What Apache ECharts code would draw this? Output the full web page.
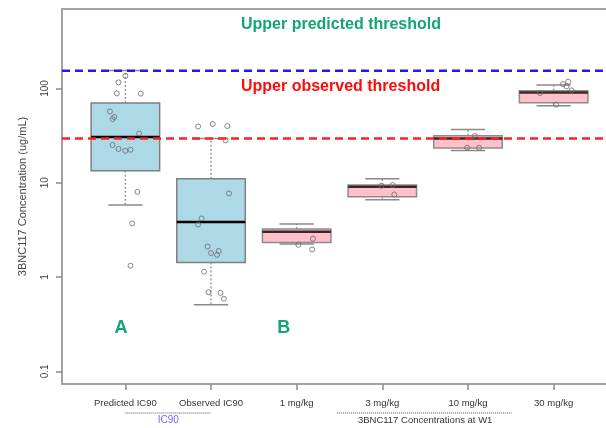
<!DOCTYPE html>
<html>
<head>
<meta charset="utf-8">
<script src="https://cdn.jsdelivr.net/npm/echarts@6/dist/echarts.min.js"></script>
<style>
  html, body { margin: 0; padding: 0; background: #fff; }
  #chart { width: 606px; height: 428px; }
</style>
</head>
<body>
<div id="chart"></div>
<script>
// Groups along the x axis (positions 1..6)
const categories = ['Predicted IC90', 'Observed IC90', '1 mg/kg', '3 mg/kg', '10 mg/kg', '30 mg/kg'];

// Box statistics: [lower whisker, Q1, median, Q3, upper whisker]  (ug/mL)
const ic90Boxes = [
  [5.8, 13.4, 30.5, 70, 155],
  [0.51, 1.43, 3.83, 11.0, 29.5]
];
const doseBoxes = [
  [2.24, 2.33, 3.02, 3.23, 3.65],
  [6.6, 7.11, 9.07, 9.46, 11.0],
  [22.0, 23.3, 29.5, 31.5, 36.7],
  [65.6, 70.5, 90.7, 94.6, 109]
];

// Individual observations: [jittered group position, concentration]
const predictedPoints = [
  [1.00, 136], [0.92, 116], [0.90, 88.5], [1.18, 88], [0.82, 57], [0.87, 49.8], [0.85, 47.3],
  [1.16, 33.3], [0.85, 25.1], [0.92, 22.8], [1.00, 21.8], [1.06, 22.4], [1.14, 8.0], [1.08, 3.7], [1.06, 1.32]
];
const observedPoints = [
  [1.85, 39.5], [2.02, 41.9], [2.19, 39.9], [2.17, 28.1], [2.21, 7.7], [1.89, 4.18], [1.85, 3.61],
  [1.96, 2.11], [2.00, 1.80], [2.07, 1.72], [2.09, 1.89], [1.92, 1.14], [1.97, 0.69], [2.11, 0.68], [2.15, 0.59]
];
const dosePoints = [
  [3.02, 2.20], [3.19, 2.55], [3.18, 1.96],
  [3.99, 9.3], [4.12, 9.46], [4.14, 7.5],
  [5.08, 31.3], [4.99, 23.5], [5.13, 23.5],
  [6.11, 111], [6.17, 118], [6.15, 105], [6.21, 95.3], [5.84, 89.3], [6.03, 67.2]
];

// Reference thresholds (ug/mL)
const predictedThreshold = 154;
const observedThreshold = 29.5;

// Axis ticks
const yTickValues = [0.1, 1, 10, 100];
const yTickLabels = ['0.1', '1', '10', '100'];
const xTickValues = [1, 2, 3, 4, 5, 6];

const X_MIN = 0.26, X_MAX = 6.74;
const BOX_HALF = 0.4, CAP_HALF = 0.2;

function boxRenderer(fill, border, medianColor) {
  return function (params, api) {
    const x = api.value(0);
    const lo = api.value(1), q1 = api.value(2), med = api.value(3), q3 = api.value(4), hi = api.value(5);
    const left = api.coord([x - BOX_HALF, med])[0];
    const right = api.coord([x + BOX_HALF, med])[0];
    const capL = api.coord([x - CAP_HALF, med])[0];
    const capR = api.coord([x + CAP_HALF, med])[0];
    const cx = api.coord([x, med])[0];
    const yLo = api.coord([x, lo])[1], yQ1 = api.coord([x, q1])[1], yMed = api.coord([x, med])[1];
    const yQ3 = api.coord([x, q3])[1], yHi = api.coord([x, hi])[1];
    const whisker = { stroke: '#9a9a9a', lineWidth: 1.5, lineDash: [2, 2] };
    const cap = { stroke: '#8a8a8a', lineWidth: 1.5 };
    return {
      type: 'group',
      children: [
        { type: 'line', shape: { x1: cx, y1: yQ3, x2: cx, y2: yHi }, style: whisker },
        { type: 'line', shape: { x1: cx, y1: yQ1, x2: cx, y2: yLo }, style: whisker },
        { type: 'line', shape: { x1: capL, y1: yHi, x2: capR, y2: yHi }, style: cap },
        { type: 'line', shape: { x1: capL, y1: yLo, x2: capR, y2: yLo }, style: cap },
        { type: 'rect', shape: { x: left, y: yQ3, width: right - left, height: yQ1 - yQ3 },
          style: { fill: fill, stroke: border, lineWidth: 1.5 } },
        { type: 'line', shape: { x1: left, y1: yMed, x2: right, y2: yMed },
          style: { stroke: medianColor, lineWidth: 2.5 } }
      ]
    };
  };
}

function boxData(boxes, startPos) {
  return boxes.map((b, i) => [startPos + i].concat(b));
}

const pointStyle = {
  type: 'scatter',
  symbol: 'circle',
  symbolSize: 5,
  itemStyle: { color: 'rgba(0,0,0,0)', borderColor: '#6a6a6a', borderWidth: 1 },
  z: 5,
  silent: true
};

function hLine(value, color) {
  return {
    type: 'line',
    data: [[X_MIN, value], [X_MAX, value]],
    showSymbol: false,
    symbol: 'none',
    lineStyle: { color: color, width: 2.5, type: [8, 5] },
    z: 8,
    silent: true
  };
}

const chart = echarts.init(document.getElementById('chart'), null, { renderer: 'canvas' });

// Plot frame: left, top and bottom edges (the right edge lies past the canvas)
chart.setOption({
  animation: false,
  backgroundColor: '#ffffff',
  grid: {
    left: 62, top: 9, width: 555, height: 375,
    outerBoundsMode: 'none',
    containLabel: false,
    show: false
  },
  xAxis: [{
    type: 'value',
    min: X_MIN, max: X_MAX,
    axisLine: { show: true, onZero: false, lineStyle: { color: '#a3a3a3', width: 2 } },
    splitLine: { show: false },
    axisTick: { show: true, customValues: xTickValues, length: 6, lineStyle: { color: '#8a8a8a', width: 1.5 } },
    axisLabel: {
      customValues: xTickValues,
      margin: 14,
      fontFamily: 'Liberation Sans', fontSize: 9.5, color: '#333',
      formatter: v => categories[Math.round(v) - 1]
    }
  }, {
    type: 'value', position: 'top',
    min: X_MIN, max: X_MAX,
    axisLine: { show: true, onZero: false, lineStyle: { color: '#a3a3a3', width: 2 } },
    axisTick: { show: false }, axisLabel: { show: false }, splitLine: { show: false }
  }],
  yAxis: {
    type: 'log',
    logBase: 10,
    min: 0.0735, max: 695,
    name: '3BNC117 Concentration (ug/mL)',
    nameLocation: 'middle',
    nameGap: 34,
    nameRotate: 90,
    nameTextStyle: { fontFamily: 'Liberation Sans', fontSize: 11, color: '#444' },
    axisLine: { show: true, onZero: false, lineStyle: { color: '#a3a3a3', width: 2 } },
    splitLine: { show: false },
    axisTick: { show: true, customValues: yTickValues, length: 6, lineStyle: { color: '#8a8a8a', width: 1.5 } },
    axisLabel: {
      customValues: yTickValues,
      rotate: 90,
      margin: 12,
      fontFamily: 'Liberation Sans', fontSize: 10, color: '#444',
      formatter: v => {
        const i = yTickValues.findIndex(t => Math.abs(Math.log10(t) - Math.log10(v)) < 1e-6);
        return i >= 0 ? yTickLabels[i] : '';
      }
    }
  },
  series: [
    {
      type: 'custom', name: 'IC90',
      renderItem: boxRenderer('#add8e6', '#7f7f7f', '#000000'),
      data: boxData(ic90Boxes, 1),
      encode: { x: 0, y: [1, 2, 3, 4, 5] },
      z: 3, silent: true
    },
    {
      type: 'custom', name: 'Dose',
      renderItem: boxRenderer('#ffc0cb', '#8c8c8c', '#3a2626'),
      data: boxData(doseBoxes, 3),
      encode: { x: 0, y: [1, 2, 3, 4, 5] },
      z: 3, silent: true
    },
    Object.assign({ data: predictedPoints }, pointStyle),
    Object.assign({ data: observedPoints }, pointStyle),
    Object.assign({ data: dosePoints }, pointStyle),
    hLine(predictedThreshold, '#1a1aff'),
    hLine(observedThreshold, '#ff2020')
  ]
});

// Annotations and group brackets under the axis
const px = v => chart.convertToPixel({ xAxisIndex: 0 }, v);
const BRACKET_Y = 413, GROUP_LABEL_Y = 420;
chart.setOption({
  graphic: [
    { type: 'text', left: 241, top: 17, z: 20,
      style: { text: 'Upper predicted threshold', font: 'bold 16px "Liberation Sans", Arial, sans-serif', fill: '#13a574' } },
    { type: 'text', left: 241, top: 79, z: 20,
      style: { text: 'Upper observed threshold', font: 'bold 16px "Liberation Sans", Arial, sans-serif', fill: '#ff0a0a' } },
    { type: 'text', x: px(0.95), y: 328, z: 20,
      style: { text: 'A', align: 'center', verticalAlign: 'middle', font: 'bold 18px "Liberation Sans", Arial, sans-serif', fill: '#13a574' } },
    { type: 'text', x: px(2.85), y: 328, z: 20,
      style: { text: 'B', align: 'center', verticalAlign: 'middle', font: 'bold 18px "Liberation Sans", Arial, sans-serif', fill: '#13a574' } },
    { type: 'line', z: 20, shape: { x1: px(1), y1: BRACKET_Y, x2: px(2), y2: BRACKET_Y },
      style: { stroke: '#555', lineWidth: 1, lineDash: [1, 1] } },
    { type: 'line', z: 20, shape: { x1: px(3.47), y1: BRACKET_Y, x2: px(5.51), y2: BRACKET_Y },
      style: { stroke: '#555', lineWidth: 1, lineDash: [1, 1] } },
    { type: 'text', x: px(1.5), y: GROUP_LABEL_Y, z: 20,
      style: { text: 'IC90', align: 'center', verticalAlign: 'middle', font: '10px "Liberation Sans", Arial, sans-serif', fill: '#6b6bff' } },
    { type: 'text', x: px(4.5), y: GROUP_LABEL_Y, z: 20,
      style: { text: '3BNC117 Concentrations at W1', align: 'center', verticalAlign: 'middle', font: '9.5px "Liberation Sans", Arial, sans-serif', fill: '#333' } }
  ]
});
</script>
</body>
</html>
